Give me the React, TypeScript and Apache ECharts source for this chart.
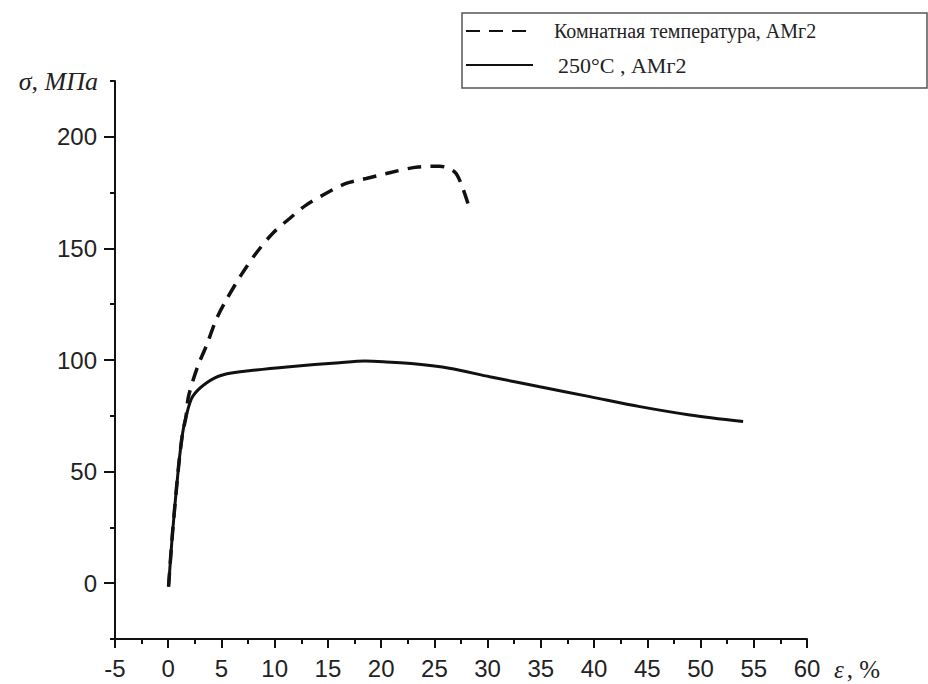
import React, { useEffect, useRef } from "react";
import * as echarts from "echarts";

// ---- data ----
const roomName = "Комнатная температура, АМг2";
const hotName = "250°C , АМг2";

const strainRoom = [0.03, 0.4, 0.97, 1.35, 1.67, 1.9, 2.76, 3.55, 4.5, 5.27, 6.84, 8.25, 9.8, 11.4, 12.95, 14.8, 16.7, 18.6, 20.8, 23.45, 25.5, 26.9, 27.5, 28.2];
const stressRoom = [-1.5, 22.4, 52.2, 67.2, 74.6, 83.6, 97, 106, 118, 125.4, 138, 147.8, 156.7, 163.4, 169.4, 174.6, 179.1, 181.3, 183.9, 186.5, 186.8, 184.3, 179.1, 169.4];

const strainHot = [0.03, 0.4, 0.97, 1.35, 1.67, 2.29, 3.55, 5.1, 8.25, 11.4, 16.1, 18.5, 20.2, 23.3, 26.4, 30.2, 34.9, 39.6, 44.3, 49.0, 54.0];
const stressHot = [-1.5, 22.4, 52.2, 67.2, 74.6, 83.6, 89.6, 93.3, 95.5, 97.0, 98.8, 99.5, 99.2, 98.2, 96.3, 92.5, 88.0, 83.6, 79.1, 75.4, 72.4];

const yMajorTicks = [0, 50, 100, 150, 200];
const xMin = -5;
const xMax = 60;
const xStep = 5;
const yMin = -25;
const yMax = 225;
const yStep = 25;

const INK = "#111";
const SANS = "'Liberation Sans', Arial, sans-serif";
const SERIF = "'Liberation Serif', 'Times New Roman', serif";

export default function App() {
  const ref = useRef<HTMLDivElement>(null);

  useEffect(() => {
    if (!ref.current) return;
    const chart = echarts.init(ref.current, undefined, { renderer: "svg" });

    const roomData = strainRoom.map((x, i) => [x, stressRoom[i]]);
    const hotData = strainHot.map((x, i) => [x, stressHot[i]]);

    chart.setOption({
      animation: false,
      backgroundColor: "#fff",
      grid: { left: 115, right: 121, top: 81, bottom: 45, outerBoundsMode: "none" },
      legend: {
        orient: "vertical",
        left: 465,
        top: 19,
        padding: 0,
        itemGap: 10,
        itemWidth: 67,
        itemHeight: 14,
        selectedMode: false,
        data: [roomName, hotName],
        itemStyle: { color: "rgba(0,0,0,0)", borderColor: "rgba(0,0,0,0)", borderWidth: 0 },
        formatter: (name: string) => (name === roomName ? `{a|${name}}` : `{b|${name}}`),
        textStyle: {
          color: "#222",
          lineHeight: 24,
          rich: {
            a: { fontFamily: SERIF, fontSize: 20, color: "#222", padding: [0, 0, 0, 16] },
            b: { fontFamily: SERIF, fontSize: 22, color: "#222", padding: [0, 0, 0, 20] },
          },
        },
      },
      graphic: [
        {
          type: "rect",
          silent: true,
          z: -1,
          shape: { x: 462, y: 13, width: 465, height: 75 },
          style: { fill: "none", stroke: "#555", lineWidth: 1.5 },
        },
      ],
      xAxis: {
        type: "value",
        min: xMin,
        max: xMax,
        interval: xStep,
        name: "{i|ε}{n|, %}",
        nameLocation: "end",
        nameGap: 27,
        nameTextStyle: {
          align: "left",
          verticalAlign: "top",
          lineHeight: 24,
          padding: [18, 0, 0, 0],
          rich: {
            i: { fontFamily: SERIF, fontStyle: "italic", fontSize: 25, lineHeight: 24, color: "#222" },
            n: { fontFamily: SERIF, fontSize: 25, lineHeight: 24, color: "#222", padding: [0, 0, 0, 3] },
          },
        },
        axisLine: { show: true, onZero: false, lineStyle: { color: INK, width: 2 } },
        axisTick: { show: true, length: 9, lineStyle: { color: INK, width: 2 } },
        minorTick: { show: true, splitNumber: 2, length: 5, lineStyle: { color: INK, width: 2 } },
        axisLabel: { color: "#222", fontFamily: SANS, fontSize: 24, margin: 17 },
        splitLine: { show: false },
        minorSplitLine: { show: false },
      },
      yAxis: [
        {
          type: "value",
          position: "left",
          min: yMin,
          max: yMax,
          interval: yStep,
          name: "σ, МПа",
          nameLocation: "end",
          nameGap: 0,
          nameTextStyle: {
            fontFamily: SERIF,
            fontStyle: "italic",
            fontSize: 26,
            color: "#222",
            align: "right",
            verticalAlign: "middle",
            padding: [0, 17, 0, 0],
          },
          axisLine: { show: true, onZero: false, lineStyle: { color: INK, width: 2 } },
          axisTick: { show: true, length: 5, lineStyle: { color: INK, width: 2 } },
          axisLabel: { show: false },
          splitLine: { show: false },
        },
        {
          type: "value",
          position: "left",
          offset: 0,
          min: yMin,
          max: yMax,
          interval: yStep,
          axisLine: { show: false, onZero: false },
          axisTick: { show: true, length: 11, customValues: yMajorTicks, lineStyle: { color: INK, width: 2 } },
          axisLabel: { show: true, customValues: yMajorTicks, color: "#222", fontFamily: SANS, fontSize: 24, margin: 18 },
          splitLine: { show: false },
        },
      ],
      series: [
        {
          name: roomName,
          type: "line",
          yAxisIndex: 0,
          data: roomData,
          smooth: 0.3,
          symbol: "none",
          lineStyle: { color: INK, width: 3.5, type: [14, 9] },
          itemStyle: { color: INK },
        },
        {
          name: hotName,
          type: "line",
          yAxisIndex: 0,
          data: hotData,
          smooth: 0.3,
          symbol: "none",
          lineStyle: { color: INK, width: 3, type: "solid" },
          itemStyle: { color: INK },
        },
      ],
    });

    return () => chart.dispose();
  }, []);

  return (
    <div
      ref={ref}
      style={{ position: "fixed", left: 0, top: 0, width: 928, height: 684, background: "#fff" }}
    />
  );
}
